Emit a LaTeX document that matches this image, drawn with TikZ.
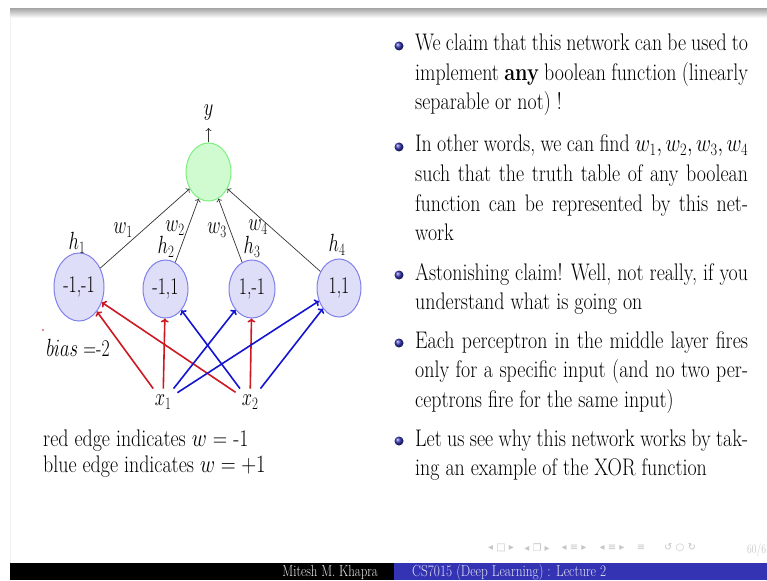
\documentclass[tikz,border=0pt]{standalone}
\usepackage{graphicx}
\usepackage{fontspec}
\newfontfamily\navfont{DejaVu Sans}
\usetikzlibrary{shapes.geometric,arrows.meta}

\definecolor{edgered}{RGB}{205,25,35}
\definecolor{edgeblue}{RGB}{20,20,210}
\definecolor{hfill}{RGB}{222,222,248}
\definecolor{hdraw}{RGB}{128,128,236}
\definecolor{gfill}{RGB}{208,250,208}
\definecolor{gdraw}{RGB}{125,240,125}
\definecolor{footblue}{RGB}{51,51,179}
\definecolor{ballblue}{RGB}{51,51,179}

\newcommand\bodyfont{\fontsize{24}{29.5}\selectfont}
\newcommand\footfont{\fontsize{16}{19}\selectfont}
% narrow the type horizontally, as on the slide
\newcommand\sx[1]{\scalebox{0.74}[1]{#1}}
\newcommand\tx[1]{\scalebox{0.83}[1]{#1}}
% a paragraph built from explicit lines
\newcommand\para[1]{\tx{\vtop{\hsize=401pt \baselineskip=29.5pt \lineskiplimit=-30pt \lineskip=0pt \parindent=0pt #1}}}
\newcommand\jl[1]{\hbox to 401pt{#1}}
\newcommand\nl[1]{\hbox{#1}}

\begin{document}
\begin{tikzpicture}[x=1pt, y=-1pt, font=\bodyfont,
  hnode/.style={ellipse, draw=hdraw, fill=hfill, line width=1pt, inner sep=0pt},
  gnode/.style={ellipse, draw=gdraw, fill=gfill, line width=1pt, inner sep=0pt,
                minimum width=45, minimum height=58},
  lbl/.style={inner sep=1pt},
  xin/.style={inner sep=6pt},
  blk/.style={draw=black!80, line width=0.7pt, -{To[length=3pt,width=6pt]}},
  redge/.style={draw=edgered, line width=1.6pt, -{To[length=4pt,width=8pt]}},
  bedge/.style={draw=edgeblue, line width=1.6pt, -{To[length=4pt,width=8pt]}},
  navsym/.style={font=\navfont\fontsize{10}{11}\selectfont, text=gray!45, inner sep=0pt}]

\clip (0,0) rectangle (767,580);
\fill[white] (0,0) rectangle (767,580);

% shadow under the head line and the slide edge
\shade[top color=gray!65, bottom color=white] (10,9) rectangle (767,18);
\draw[gray!12] (10,18) -- (10,563);

% ---------------- network ----------------
\node[gnode] (g) at (208.5,172) {};
\node[lbl, inner sep=7pt] (ylab) at (208.5,113) {\sx{$y$}};

\node[hnode, minimum width=50, minimum height=68] (h1) at (79,287) {\sx{-1,-1}};
\node[hnode, minimum width=45, minimum height=58] (h2) at (165.5,289) {\sx{-1,1}};
\node[hnode, minimum width=46, minimum height=58] (h3) at (252,289) {\sx{1,-1}};
\node[hnode, minimum width=44, minimum height=58] (h4) at (339,288) {\sx{1,1}};

\node[lbl] (lh1) at (77,243) {\sx{$h_1$}};
\node[lbl] (lh2) at (166,247) {\sx{$h_2$}};
\node[lbl] (lh3) at (252,247) {\sx{$h_3$}};
\node[lbl] (lh4) at (337,245) {\sx{$h_4$}};

\node[lbl] (lw1) at (123,230) {\sx{$w_1$}};
\node[lbl] (lw2) at (175,228) {\sx{$w_2$}};
\node[lbl] (lw3) at (217,230) {\sx{$w_3$}};
\node[lbl] (lw4) at (258,227) {\sx{$w_4$}};

\node[xin] (x1) at (163,402) {\sx{$x_1$}};
\node[xin] (x2) at (250,402) {\sx{$x_2$}};

\node[lbl] (bias) at (78,348) {\sx{$bias$ =-2}};
\fill[edgered] (43,330) circle (0.8);

\draw[blk] (g) -- (ylab);
\draw[blk] (h1) -- (g);
\draw[blk] (h2) -- (g);
\draw[blk] (h3) -- (g);
\draw[blk] (h4) -- (g);

\draw[redge] (x1) -- (h1);
\draw[redge] (x1) -- (h2);
\draw[redge] (x2) -- (h1);
\draw[redge] (x2) -- (h3);
\draw[bedge] (x1) -- (h3);
\draw[bedge] (x1) -- (h4);
\draw[bedge] (x2) -- (h2);
\draw[bedge] (x2) -- (h4);

\node[anchor=base west, inner sep=0pt] (leg1) at (43,446) {\tx{red edge indicates $w$ = -1}};
\node[anchor=base west, inner sep=0pt] (leg2) at (43,472) {\tx{blue edge indicates $w = +1$}};

% ---------------- bullet list ----------------
\foreach \by in {46,147,275,343,441}
  \shade[ball color=ballblue] (399,\by) circle (4.5);

\node[anchor=base west, inner sep=0pt] (item1) at (415,51) {\para{%
  \jl{We claim that this network can be used to}%
  \jl{implement \textbf{any} boolean function (linearly}%
  \nl{separable or not) !}}};
\node[anchor=base west, inner sep=0pt] (item2) at (415,152) {\para{%
  \jl{In other words, we can find $w_1, w_2, w_3, w_4$}%
  \jl{such that the truth table of any boolean}%
  \jl{function can be represented by this net-}%
  \nl{work}}};
\node[anchor=base west, inner sep=0pt] (item3) at (415,280) {\para{%
  \jl{Astonishing claim! Well, not really, if you}%
  \nl{understand what is going on}}};
\node[anchor=base west, inner sep=0pt] (item4) at (415,348) {\para{%
  \jl{Each perceptron in the middle layer fires}%
  \jl{only for a specific input (and no two per-}%
  \nl{ceptrons fire for the same input)}}};
\node[anchor=base west, inner sep=0pt] (item5) at (415,446) {\para{%
  \jl{Let us see why this network works by tak-}%
  \nl{ing an example of the XOR function}}};

% ---------------- navigation symbols ----------------
\node[navsym] (nav1) at (501,548) {◂ □ ▸};
\node[navsym] (nav2) at (537,548) {◂ ❐ ▸};
\node[navsym] (nav3) at (574,548) {◂ ≡ ▸};
\node[navsym] (nav4) at (612,548) {◂ ≡ ▸};
\node[navsym] (nav5) at (641,548) {≡};
\node[navsym] (nav6) at (680,548) {↺ ○ ↻};
\node[anchor=base west, inner sep=0pt, text=gray!45, font=\fontsize{13}{15}\selectfont] (page) at (747,553) {\sx{60/6}};

% ---------------- footline ----------------
\fill[black] (10,563) rectangle (394,580);
\fill[footblue] (394,563) rectangle (767,580);
\node[anchor=base east, inner sep=0pt, text=white!85!gray, font=\footfont] (author) at (378,576) {\scalebox{0.8}[1]{Mitesh M. Khapra}};
\node[anchor=base west, inner sep=0pt, text=white!85!footblue, font=\footfont] (title) at (412,576) {\scalebox{0.83}[1]{CS7015 (Deep Learning) : Lecture 2}};
\end{tikzpicture}
\end{document}
